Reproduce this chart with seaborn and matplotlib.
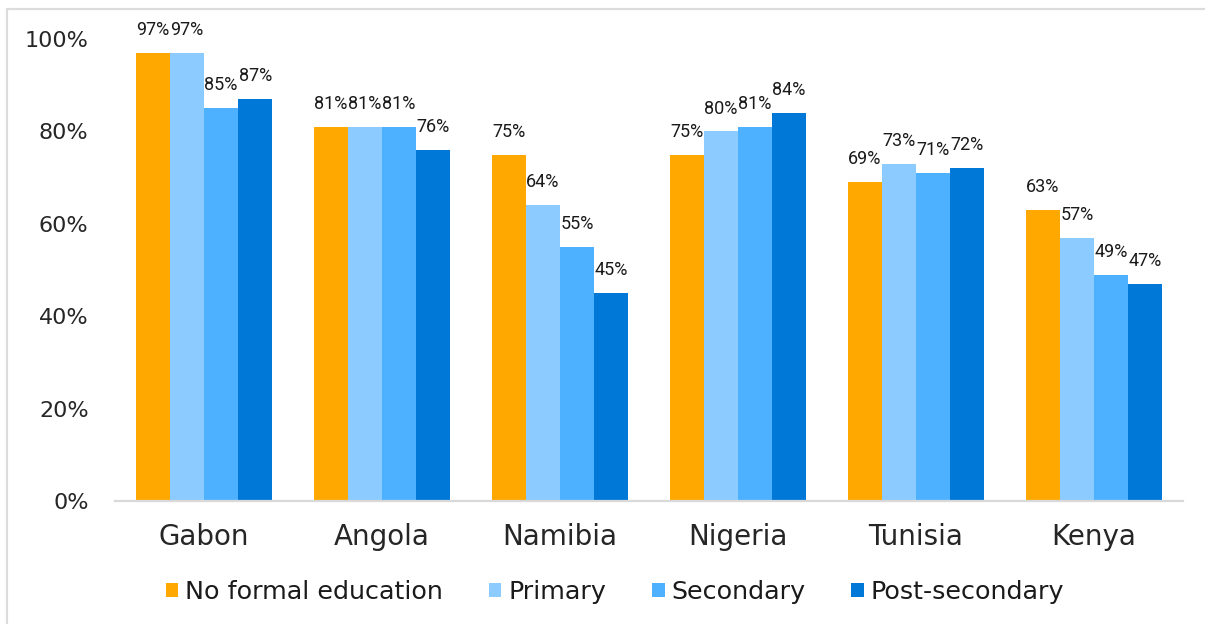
import matplotlib
matplotlib.use("Agg")
import matplotlib.pyplot as plt
from matplotlib.lines import Line2D
from matplotlib.patches import Patch
import seaborn as sns
import pandas as pd

# Share of respondents by education level, per country (percent)
countries = ["Gabon", "Angola", "Namibia", "Nigeria", "Tunisia", "Kenya"]
levels = ["No formal education", "Primary", "Secondary", "Post-secondary"]
no_formal = [97, 81, 75, 75, 69, 63]
primary = [97, 81, 64, 80, 73, 57]
secondary = [85, 81, 55, 81, 71, 49]
post_secondary = [87, 76, 45, 84, 72, 47]
y_ticks = [0, 20, 40, 60, 80, 100]

colors = ["#FFA800", "#8BCBFF", "#4DB1FF", "#0078D7"]

series = [no_formal, primary, secondary, post_secondary]
rows = []
for level, vals in zip(levels, series):
    for c, v in zip(countries, vals):
        rows.append({"country": c, "level": level, "value": v})
df = pd.DataFrame(rows)

sns.set_theme(style="white")
plt.rcParams["font.family"] = ["DejaVu Sans"]
plt.rcParams["text.color"] = "#1a1a1a"

fig = plt.figure(figsize=(12.05, 6.24), dpi=100)
ax = fig.add_axes([115 / 1205, (624 - 501) / 624, 1068 / 1205, (501 - 39) / 624])

sns.barplot(data=df, x="country", y="value", hue="level", order=countries,
            hue_order=levels, palette=colors, width=0.766, gap=0,
            linewidth=0, saturation=1, errorbar=None, ax=ax, legend=False)

# Value labels above each bar, in a compact face so neighbours stay apart
for cont in ax.containers:
    ax.bar_label(cont, labels=[f"{int(round(b.get_height()))}%" for b in cont],
                 padding=10, fontsize=13, color="#1a1a1a",
                 family=["Roboto", "DejaVu Sans"])

ax.set_ylim(0, 100)
ax.set_xlim(-0.5, len(countries) - 0.5)
ax.set_yticks(y_ticks)
ax.set_yticklabels([f"{t}%" for t in y_ticks], fontsize=16)
ax.tick_params(axis="y", length=0, pad=19)
ax.tick_params(axis="x", length=0, pad=16, labelsize=20)
ax.set_xlabel("")
ax.set_ylabel("")
for s in ["top", "right", "left"]:
    ax.spines[s].set_visible(False)
ax.spines["bottom"].set_color("#D9D9D9")
ax.spines["bottom"].set_linewidth(1.6)

handles = [Patch(facecolor=c, edgecolor="none") for c in colors]
fig.legend(handles, levels, loc="center", bbox_to_anchor=(615 / 1205, 1 - 592 / 624),
           ncol=4, frameon=False, fontsize=18.3, handlelength=0.5,
           handleheight=0.5, handletextpad=0.27, columnspacing=1.8)

# Light outer border of the chart area
fig.add_artist(Line2D([7 / 1205, 1], [1 - 8.5 / 624, 1 - 8.5 / 624],
                      transform=fig.transFigure, color="#DCDCDC", lw=1.6))
fig.add_artist(Line2D([7 / 1205, 7 / 1205], [0, 1 - 8.5 / 624],
                      transform=fig.transFigure, color="#DCDCDC", lw=1.6))

fig.savefig("out.png", dpi=100, facecolor="white")
